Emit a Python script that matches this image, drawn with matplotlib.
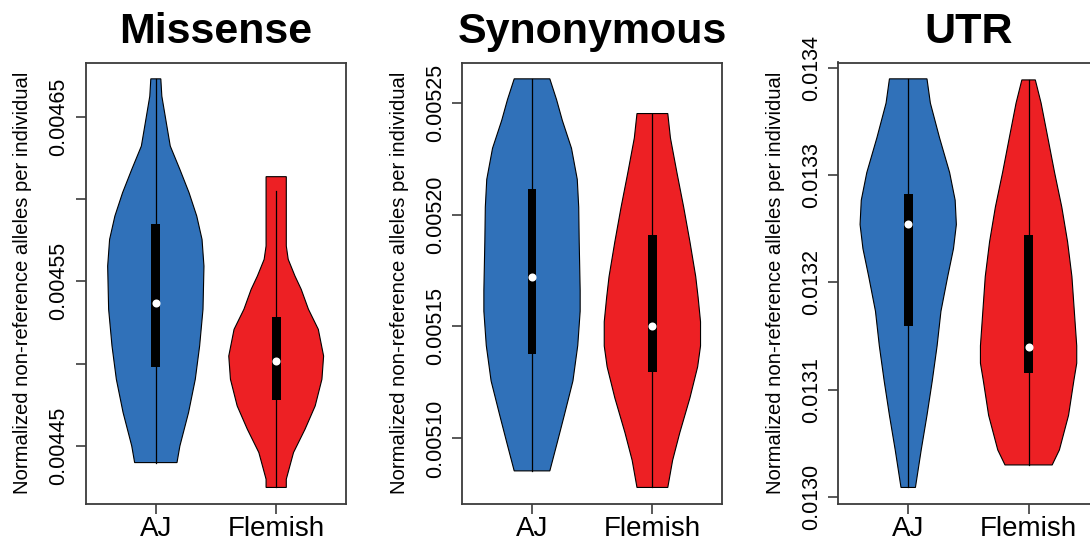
import matplotlib
matplotlib.use("Agg")
import matplotlib.pyplot as plt
from matplotlib.patches import Rectangle

plt.rcParams['font.family'] = ['Liberation Sans', 'DejaVu Sans']

groups = ['AJ', 'Flemish']
panel_titles = ['Missense', 'Synonymous', 'UTR']
ylabel_text = 'Normalized non-reference alleles per individual'

# violin outlines: allele rate levels and relative density (1 = widest point)
mis_aj_y = [0.004673, 0.0046625, 0.0046443, 0.0046322, 0.004618, 0.0046039, 0.0045897,
            0.0045755, 0.0045593, 0.0045331, 0.0045108, 0.0044906, 0.0044704, 0.0044501, 0.00444]
mis_aj_d = [0.104, 0.125, 0.23, 0.3, 0.5, 0.69, 0.85, 0.96, 1.0, 0.98, 0.91, 0.82, 0.68, 0.5, 0.44]
mis_fl_y = [0.0046136, 0.0045715, 0.0045634, 0.0045533, 0.0045452, 0.0045331, 0.0045209,
            0.0045047, 0.0044906, 0.0044744, 0.0044603, 0.0044461, 0.0044299, 0.0044249]
mis_fl_d = [0.21, 0.21, 0.25, 0.39, 0.52, 0.67, 0.875, 0.985, 0.95, 0.81, 0.6, 0.36, 0.21, 0.21]

syn_aj_y = [0.0052606, 0.0052513, 0.005242, 0.0052296, 0.0052157, 0.0052033, 0.0051879,
            0.0051661, 0.0051568, 0.0051415, 0.0051257, 0.0051103, 0.0050978, 0.0050855]
syn_aj_d = [0.37, 0.51, 0.63, 0.82, 0.94, 0.97, 0.98, 1.0, 1.0, 0.95, 0.85, 0.67, 0.52, 0.37]
syn_fl_y = [0.0052451, 0.0052342, 0.0052187, 0.0052033, 0.0051878, 0.0051723, 0.005163,
            0.0051521, 0.0051413, 0.005132, 0.0051181, 0.0051026, 0.0050902, 0.0050781]
syn_fl_d = [0.32, 0.375, 0.51, 0.65, 0.78, 0.9, 0.95, 1.0, 1.0, 0.94, 0.78, 0.57, 0.42, 0.32]

utr_aj_y = [0.0133899, 0.0133673, 0.013335, 0.0133025, 0.0132767, 0.013254, 0.0132314,
            0.0132054, 0.0131731, 0.0131408, 0.0131083, 0.013076, 0.0130437, 0.0130087]
utr_aj_d = [0.39, 0.46, 0.65, 0.86, 0.975, 1.0, 0.94, 0.82, 0.68, 0.6, 0.5, 0.39, 0.27, 0.15]
utr_fl_y = [0.0133889, 0.0133673, 0.013335, 0.0133025, 0.0132702, 0.0132379, 0.0132054,
            0.0131731, 0.0131408, 0.0131246, 0.0131083, 0.013076, 0.0130437, 0.0130297]
utr_fl_d = [0.14, 0.26, 0.4, 0.54, 0.69, 0.81, 0.9, 0.95, 1.0, 1.0, 0.94, 0.83, 0.64, 0.49]

# box summaries per group: q1, median, q3, lower whisker, upper whisker
mis_aj_box = [0.0044981, 0.0045371, 0.0045846, 0.00444, 0.004673]
mis_fl_box = [0.0044777, 0.0045015, 0.0045287, 0.0044249, 0.0046049]
syn_aj_box = [0.0051377, 0.0051723, 0.0052115, 0.0050855, 0.0052606]
syn_fl_box = [0.0051297, 0.0051503, 0.0051908, 0.0050781, 0.0052451]
utr_aj_box = [0.0131595, 0.0132547, 0.0132821, 0.0130087, 0.0133899]
utr_fl_box = [0.0131155, 0.0131401, 0.0132443, 0.0130297, 0.0133889]

mis_ticks = [0.00445, 0.00450, 0.00455, 0.00460, 0.00465]
mis_ticklabels = ['0.00445', '', '0.00455', '', '0.00465']
syn_ticks = [0.00510, 0.00515, 0.00520, 0.00525]
syn_ticklabels = ['0.00510', '0.00515', '0.00520', '0.00525']
utr_ticks = [0.0130, 0.0131, 0.0132, 0.0133, 0.0134]
utr_ticklabels = ['0.0130', '0.0131', '0.0132', '0.0133', '0.0134']

colors = ['#3071B9', '#ED2024']
frame_col = '#3c3c3c'

panels = [
    ((mis_aj_y, mis_aj_d, mis_aj_box), (mis_fl_y, mis_fl_d, mis_fl_box), mis_ticks, mis_ticklabels),
    ((syn_aj_y, syn_aj_d, syn_aj_box), (syn_fl_y, syn_fl_d, syn_fl_box), syn_ticks, syn_ticklabels),
    ((utr_aj_y, utr_aj_d, utr_aj_box), (utr_fl_y, utr_fl_d, utr_fl_box), utr_ticks, utr_ticklabels),
]

W, H = 1090, 544
fig = plt.figure(figsize=(W / 100, H / 100), dpi=100)

for i, (aj, fl, ticks, ticklabels) in enumerate(panels):
    left = 86 + 376.2 * i
    ax = fig.add_axes([left / W, (H - 503.8) / H, 260 / W, 441.3 / H])

    for pos, (ys, dens, box) in enumerate([aj, fl], start=1):
        half = [0.4 * d for d in dens]
        xs = [pos - h for h in half] + [pos + h for h in reversed(half)]
        yy = list(ys) + list(reversed(ys))
        ax.fill(xs, yy, facecolor=colors[pos - 1], edgecolor='black', linewidth=0.8, zorder=2)
        q1, med, q3, lo, hi = box
        ax.plot([pos, pos], [lo, hi], color='black', linewidth=0.9, zorder=3)
        ax.add_patch(Rectangle((pos - 0.036, q1), 0.072, q3 - q1,
                               facecolor='black', edgecolor='none', zorder=4))
        ax.plot(pos, med, 'o', color='white', markersize=5.8, markeredgewidth=0, zorder=5)

    # y range padded 4% past the data, as R does
    lo_all = min(min(aj[0]), min(fl[0]))
    hi_all = max(max(aj[0]), max(fl[0]))
    pad = 0.04 * (hi_all - lo_all)
    ax.set_ylim(lo_all - pad, hi_all + pad)
    ax.set_xlim(0.42, 2.58)

    ax.set_xticks([1, 2])
    ax.set_xticklabels(groups, fontsize=20)
    ax.set_yticks(ticks)
    ax.set_yticklabels(ticklabels, fontsize=15.5, rotation=90, va='center')

    ax.tick_params(axis='both', length=7.3, width=1.2, color=frame_col)
    ax.tick_params(axis='x', pad=1.5)
    ax.tick_params(axis='y', pad=4.5)
    for sp in ax.spines.values():
        sp.set_color(frame_col)
        sp.set_linewidth(1.3)

    ax.set_title(panel_titles[i], fontsize=31, fontweight='bold', pad=13.7)
    ax.set_ylabel(ylabel_text, fontsize=14.6)
    ax.yaxis.set_label_coords(-53.5 / 260, 0.5)

fig.savefig('out.png', dpi=100)
